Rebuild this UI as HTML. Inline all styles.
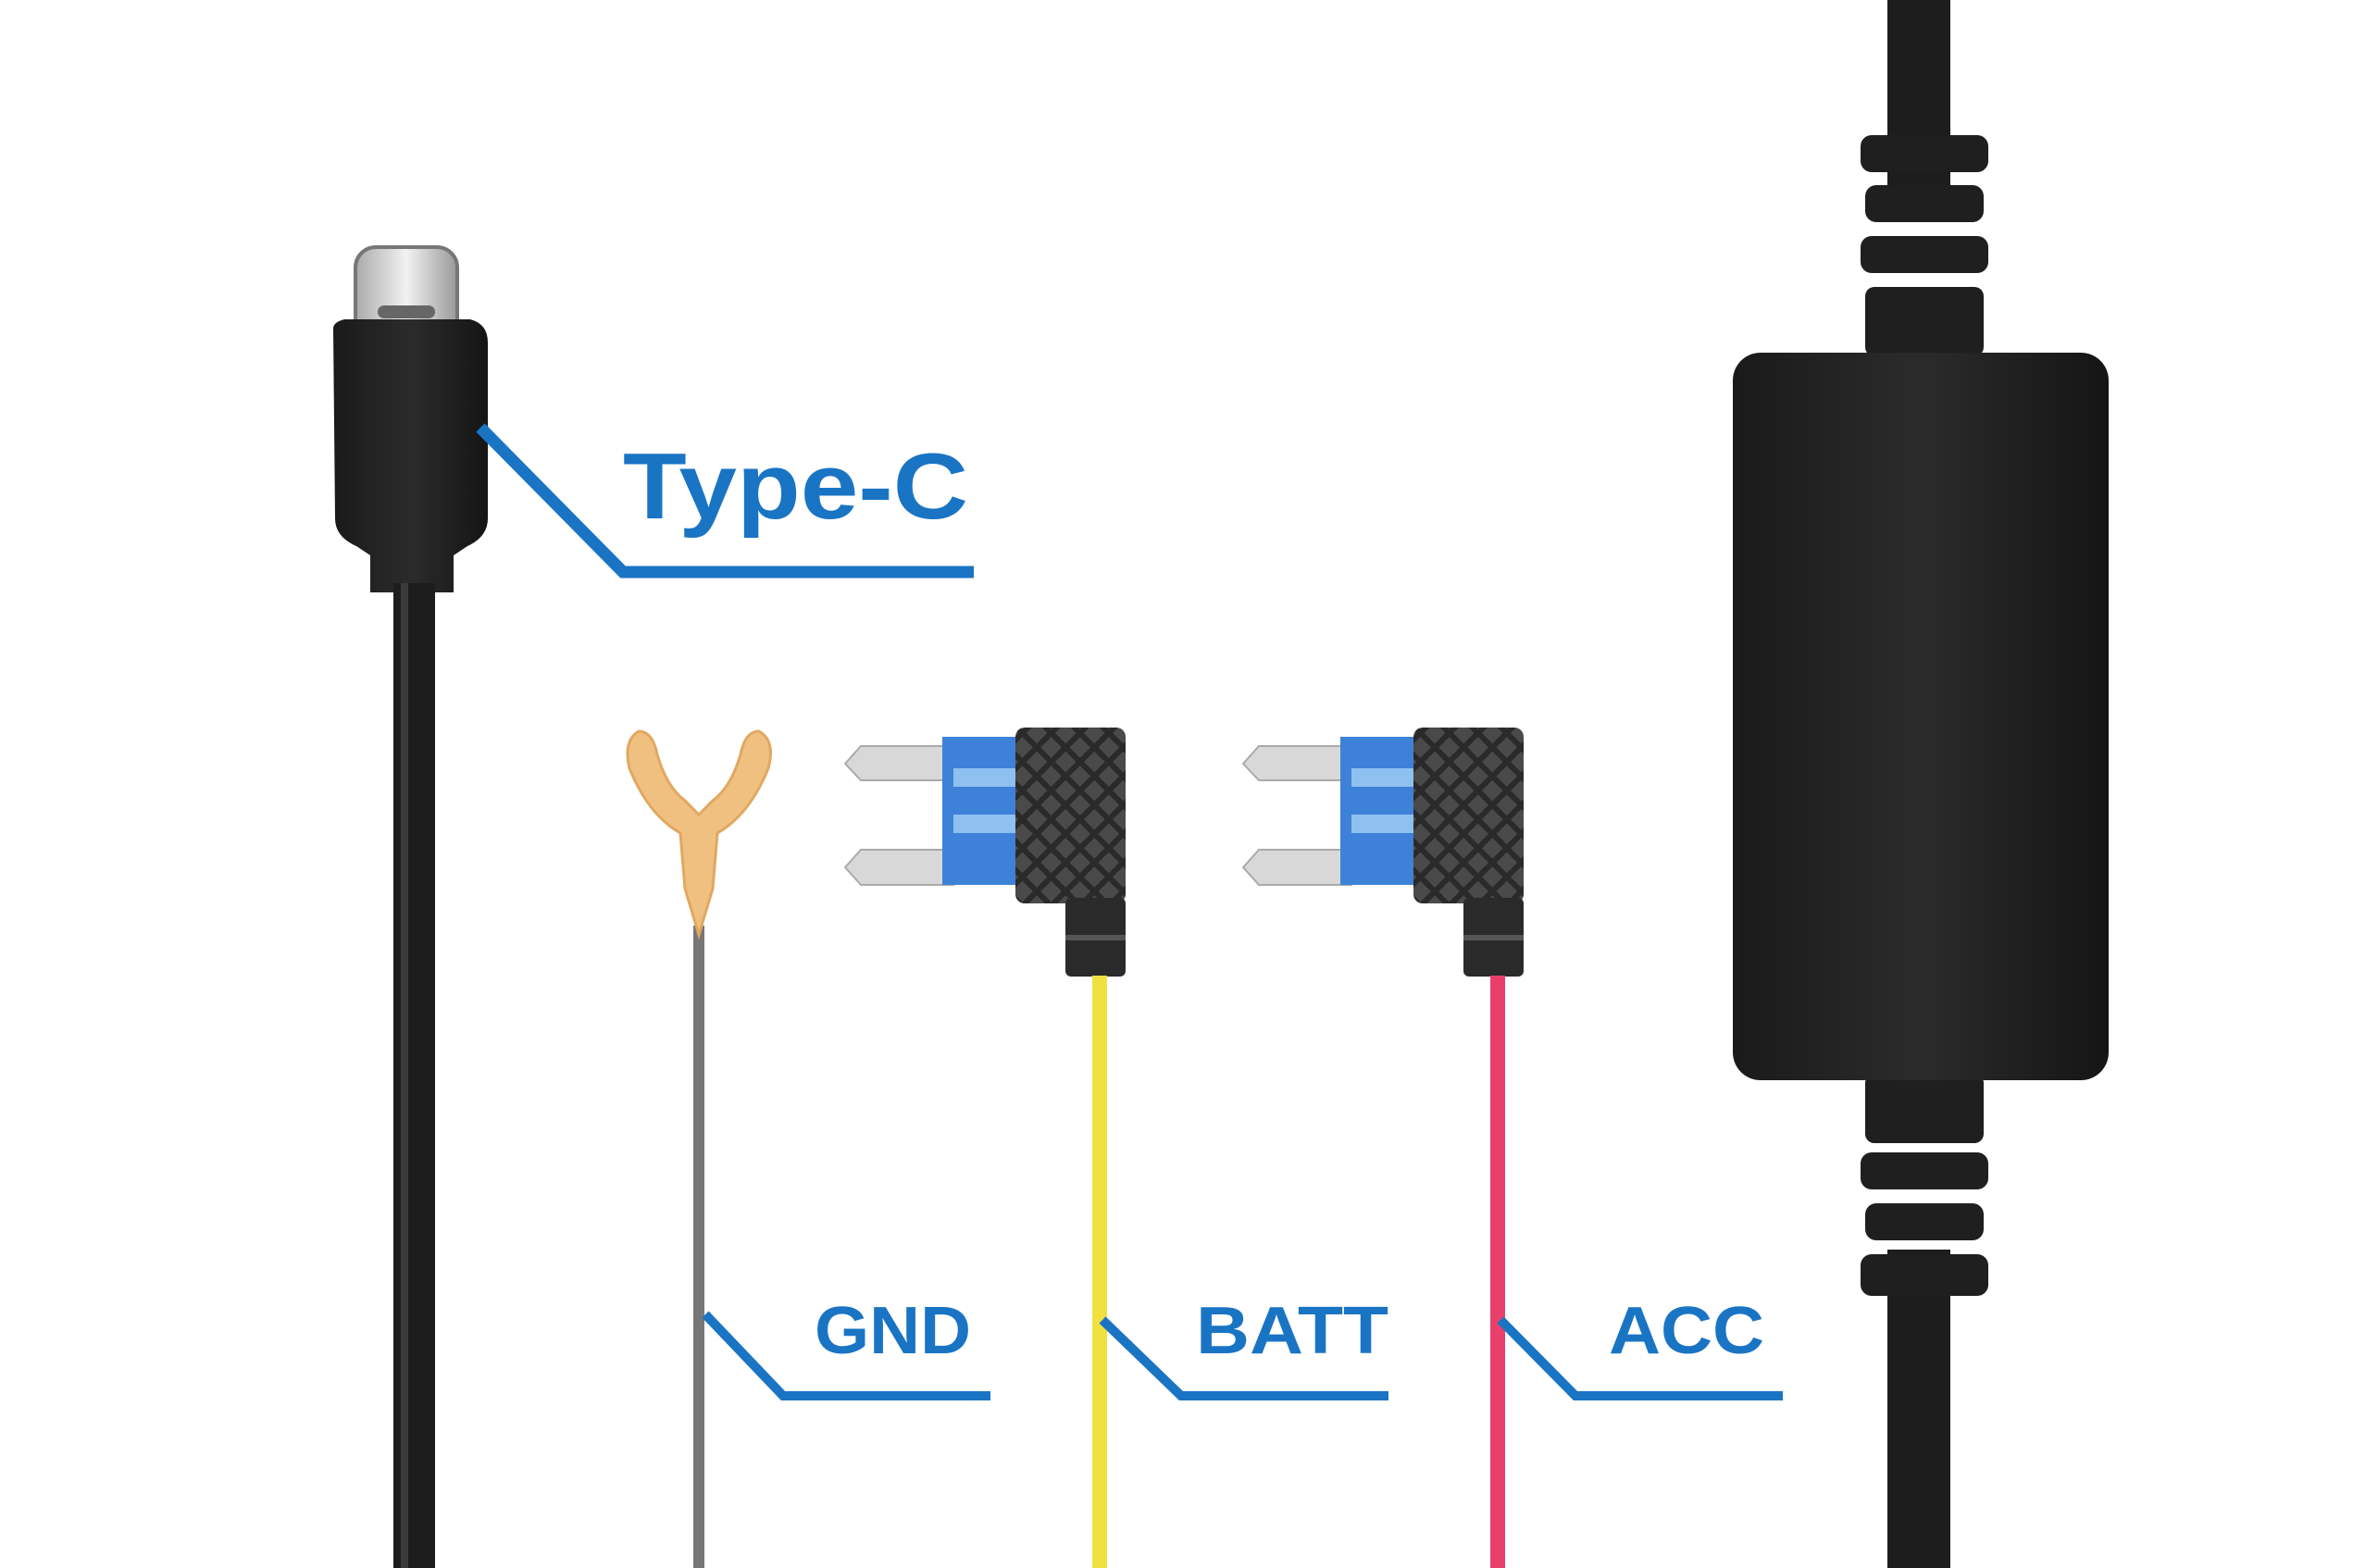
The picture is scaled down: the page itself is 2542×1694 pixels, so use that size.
<!DOCTYPE html>
<html><head><meta charset="utf-8"><style>
html,body{margin:0;padding:0;background:#fff}
svg{display:block}
text{font-family:"Liberation Sans",sans-serif;font-weight:bold;fill:#1a74c4}
</style></head><body>
<svg width="2542" height="1694" viewBox="0 0 2542 1694" xmlns="http://www.w3.org/2000/svg">
<defs>
<pattern id="knurl" width="22" height="22" patternUnits="userSpaceOnUse" patternTransform="rotate(45)">
<rect width="22" height="22" fill="#2a2a2a"/><rect x="2" y="2" width="16" height="16" fill="#4a4a4a"/>
</pattern>
<linearGradient id="body" x1="0" x2="1"><stop offset="0" stop-color="#1a1a1a"/><stop offset=".5" stop-color="#2b2b2b"/><stop offset="1" stop-color="#151515"/></linearGradient>
<linearGradient id="metal" x1="0" x2="1"><stop offset="0" stop-color="#aaa"/><stop offset=".5" stop-color="#f2f2f2"/><stop offset="1" stop-color="#999"/></linearGradient>
</defs>
<rect width="2542" height="1694" fill="#fff"/>

<!-- Type-C plug -->
<rect x="384" y="267" width="110" height="120" rx="22" fill="url(#metal)" stroke="#777" stroke-width="4"/>
<rect x="408" y="330" width="62" height="14" rx="7" fill="#666"/>
<path d="M360 355 Q360 348 372 345 L508 345 Q527 350 527 370 L527 560 Q527 580 505 590 L490 600 L490 640 L400 640 L400 600 L385 590 Q362 580 362 560 Z" fill="url(#body)"/>
<rect x="425" y="630" width="45" height="1064" fill="#1d1d1d"/>
<rect x="433" y="630" width="8" height="1064" fill="#3a3a3a"/>

<!-- Type-C label -->
<polyline points="519,462 673,618 1052,618" fill="none" stroke="#1a74c4" stroke-width="13"/>
<text x="673" y="560" font-size="101" textLength="373" lengthAdjust="spacingAndGlyphs">Type-C</text>

<!-- U terminal + gray wire -->
<rect x="749" y="1000" width="12" height="694" fill="#777"/>
<path d="M690 790 Q673 800 680 830 Q700 880 735 900 L740 960 L755 1010 L770 960 L775 900 Q810 880 830 830 Q838 800 820 790 Q805 790 800 815 Q790 850 770 865 L755 880 L740 865 Q720 850 710 815 Q705 790 690 790 Z" fill="#f0c080" stroke="#e0a860" stroke-width="3"/>

<!-- Fuse tap 1 -->
<g>
<polygon points="913,825 930,806 1030,806 1030,843 930,843" fill="#d8d8d8" stroke="#aaa" stroke-width="2"/>
<polygon points="913,937 930,918 1030,918 1030,956 930,956" fill="#d8d8d8" stroke="#aaa" stroke-width="2"/>
<rect x="1018" y="796" width="90" height="160" fill="#3d82d8"/>
<rect x="1030" y="830" width="70" height="20" fill="#8ec0f0"/>
<rect x="1030" y="880" width="70" height="20" fill="#8ec0f0"/>
<rect x="1097" y="786" width="119" height="190" rx="10" fill="url(#knurl)"/>
<rect x="1151" y="970" width="65" height="85" rx="6" fill="#2a2a2a"/>
<rect x="1151" y="1010" width="65" height="6" fill="#555"/>
<rect x="1180" y="1054" width="16" height="640" fill="#f0e040"/>
</g>
<!-- Fuse tap 2 -->
<g transform="translate(430,0)">
<polygon points="913,825 930,806 1030,806 1030,843 930,843" fill="#d8d8d8" stroke="#aaa" stroke-width="2"/>
<polygon points="913,937 930,918 1030,918 1030,956 930,956" fill="#d8d8d8" stroke="#aaa" stroke-width="2"/>
<rect x="1018" y="796" width="90" height="160" fill="#3d82d8"/>
<rect x="1030" y="830" width="70" height="20" fill="#8ec0f0"/>
<rect x="1030" y="880" width="70" height="20" fill="#8ec0f0"/>
<rect x="1097" y="786" width="119" height="190" rx="10" fill="url(#knurl)"/>
<rect x="1151" y="970" width="65" height="85" rx="6" fill="#2a2a2a"/>
<rect x="1151" y="1010" width="65" height="6" fill="#555"/>
<rect x="1180" y="1054" width="16" height="640" fill="#e8406a"/>
</g>

<!-- Labels -->
<polyline points="762,1420 846,1508 1070,1508" fill="none" stroke="#1a74c4" stroke-width="10"/>
<text x="880" y="1462" font-size="72" textLength="169" lengthAdjust="spacingAndGlyphs">GND</text>
<polyline points="1191,1426 1276,1508 1500,1508" fill="none" stroke="#1a74c4" stroke-width="10"/>
<text x="1292" y="1462" font-size="72" textLength="208" lengthAdjust="spacingAndGlyphs">BATT</text>
<polyline points="1621,1426 1702,1508 1926,1508" fill="none" stroke="#1a74c4" stroke-width="10"/>
<text x="1738" y="1462" font-size="72" textLength="168" lengthAdjust="spacingAndGlyphs">ACC</text>

<!-- Right module -->
<rect x="2039" y="0" width="68" height="200" fill="#1d1d1d"/>
<rect x="2039" y="1350" width="68" height="344" fill="#1d1d1d"/>
<g fill="#1f1f1f">
<rect x="2010" y="146" width="138" height="40" rx="12"/>
<rect x="2015" y="200" width="128" height="40" rx="12"/>
<rect x="2010" y="255" width="138" height="40" rx="12"/>
<rect x="2015" y="310" width="128" height="75" rx="10"/>
<rect x="2015" y="1160" width="128" height="75" rx="10"/>
<rect x="2010" y="1245" width="138" height="40" rx="12"/>
<rect x="2015" y="1300" width="128" height="40" rx="12"/>
<rect x="2010" y="1355" width="138" height="45" rx="12"/>
</g>
<rect x="1872" y="381" width="406" height="786" rx="30" fill="url(#body)"/>
</svg>
</body></html>
